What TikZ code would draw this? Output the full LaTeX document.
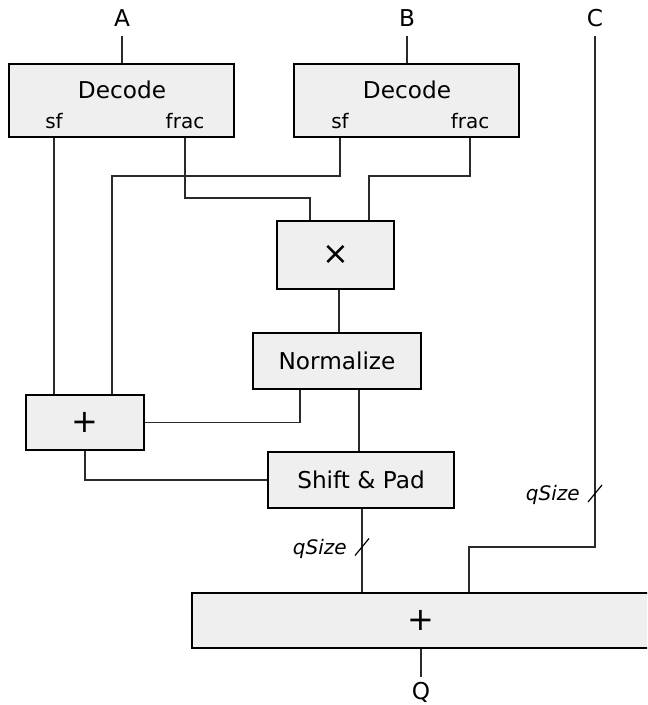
\documentclass[tikz,border=0pt]{standalone}
\usepackage{fontspec}
\setmainfont{DejaVu Sans}
\definecolor{boxgray}{HTML}{EFEFEF}
\definecolor{wiregray}{HTML}{2A2A2A}
\begin{document}
\begin{tikzpicture}[x=0.5pt,y=-0.5pt,
  blk/.style={draw=black, fill=boxgray, line width=1.1pt, inner sep=0pt},
  wire/.style={draw=wiregray, line width=0.7pt},
  lbl/.style={inner sep=0pt, font=\fontsize{11.6pt}{13pt}\selectfont},
  port/.style={inner sep=0pt, anchor=base, font=\fontsize{10pt}{12pt}\selectfont},
  op/.style={font=\fontsize{16pt}{18pt}\selectfont},
  width/.style={inner sep=0pt, anchor=base east, font=\fontsize{10pt}{12pt}\selectfont\itshape},
  busmark/.style={draw=black, line width=0.6pt}]
\useasboundingbox (0,0) rectangle (647,705);
\clip (0,0) rectangle (647,705);

% decode units
\node[blk, minimum width=112.5pt, minimum height=36.5pt] (decA) at (121.5,100.5) {};
\node[lbl, anchor=base] (decAt) at (122,99) {Decode};
\node[port] (sfA) at (54,129) {sf};
\node[port] (fracA) at (185,129) {frac};

\node[blk, minimum width=112.5pt, minimum height=36.5pt] (decB) at (406.5,100.5) {};
\node[lbl, anchor=base] (decBt) at (407,99) {Decode};
\node[port] (sfB) at (340,129) {sf};
\node[port] (fracB) at (470,129) {frac};

% arithmetic blocks
\node[blk, op, minimum width=58.5pt, minimum height=34pt] (mul) at (335.5,255) {×};
\node[blk, lbl, minimum width=84pt, minimum height=28pt] (norm) at (337,361) {Normalize};
\node[blk, op, minimum width=59pt, minimum height=27.5pt] (addS) at (85,422.5) {+};
\node[blk, lbl, minimum width=93pt, minimum height=28pt] (shift) at (361,480) {Shift \& Pad};
\node[blk, op, minimum width=229pt, minimum height=27.5pt] (addB) at (421,620.5) {+};

% inputs and output
\node[lbl, anchor=south, inner sep=4.5pt] (inA) at (122,36) {A};
\node[lbl, anchor=south, inner sep=4.5pt] (inB) at (407,36) {B};
\node[lbl, anchor=south, inner sep=4.5pt] (inC) at (595,36) {C};
\node[lbl, anchor=north, inner sep=2.5pt] (outQ) at (421,677) {Q};

% routing points
\coordinate (j1) at (112,176);
\coordinate (j2) at (310,198);
\coordinate (j3) at (369,176);
\coordinate (j4) at (339,0);
\coordinate (j5) at (300,422.5);
\coordinate (j6) at (359,0);
\coordinate (j7) at (362,0);
\coordinate (j8) at (469,547);
\coordinate (m1) at (362,547);
\coordinate (m2) at (595,493.5);

% connectors
\draw[wire] (inA.south) -- (inA.south |- decA.north);
\draw[wire] (inB.south) -- (inB.south |- decB.north);
\draw[wire] (sfA |- decA.south) -- (sfA |- addS.north);
\draw[wire] (sfB |- decB.south) |- (j1) -- (j1 |- addS.north);
\draw[wire] (fracA |- decA.south) |- (j2) -- (j2 |- mul.north);
\draw[wire] (fracB |- decB.south) |- (j3) -- (j3 |- mul.north);
\draw[wire] (j4 |- mul.south) -- (j4 |- norm.north);
\draw[wire] (j5 |- norm.south) -- (j5) -- (addS.east);
\draw[wire] (j6 |- norm.south) -- (j6 |- shift.north);
\draw[wire] (addS.south) |- (shift.west);
\draw[wire] (j7 |- shift.south) -- (j7 |- addB.north);
\draw[wire] (inC.south) |- (j8) -- (j8 |- addB.north);
\draw[wire] (outQ.north |- addB.south) -- (outQ.north);

% bus width marks
\draw[busmark] (m1) ++(-7,8.5) -- ++(14,-17);
\draw[busmark] (m2) ++(-7,8.5) -- ++(14,-17);
\node[width] (w1) at (347,554) {qSize};
\node[width] (w2) at (580,500) {qSize};
\end{tikzpicture}
\end{document}
